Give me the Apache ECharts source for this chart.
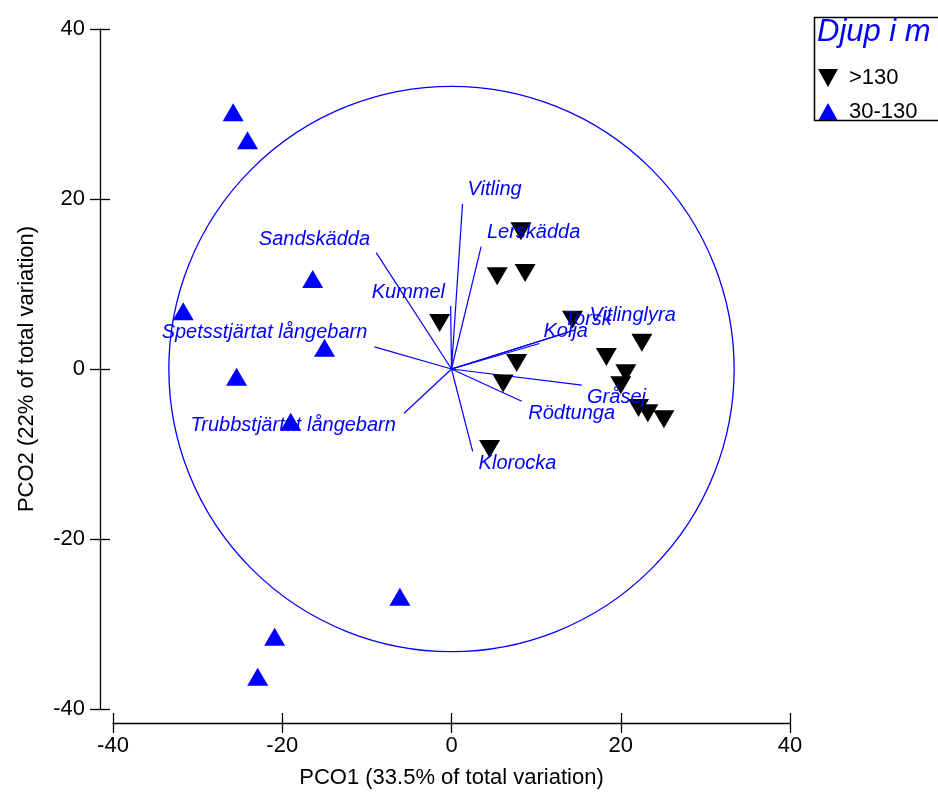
<!DOCTYPE html>
<html>
<head>
<meta charset="UTF-8">
<script src="https://cdn.jsdelivr.net/npm/echarts@6/dist/echarts.min.js"></script>
<style>
  html, body { margin: 0; padding: 0; background: #fff; }
  #main { width: 938px; height: 794px; }
</style>
</head>
<body>
<div id="main"></div>
<script>
// samples, depth > 130 m (PCO1, PCO2)
var deepX = [-1.4, 8.2, 5.4, 8.7, 14.3, 7.7, 6.1, 22.5, 18.3, 20.6, 20.0, 22.1, 23.2, 25.1, 4.5];
var deepY = [5.4, 16.2, 10.9, 11.3, 5.8, 0.7, -1.7, 3.1, 1.4, -0.5, -1.9, -4.6, -5.2, -5.9, -9.4];
// samples, depth 30-130 m
var shallowX = [-25.8, -24.1, -16.4, -31.7, -15.0, -25.4, -19.0, -6.1, -20.9, -22.9];
var shallowY = [30.2, 26.9, 10.6, 6.8, 2.5, -0.9, -6.2, -26.8, -31.5, -36.2];

// species vectors (end points) and where their names sit
var species = ['Vitling', 'Lerskädda', 'Sandskädda', 'Kummel', 'Spetsstjärtat långebarn',
  'Trubbstjärtat långebarn', 'Klorocka', 'Rödtunga', 'Gråsej', 'Kolja', 'Torsk', 'Vitlinglyra'];
var vecX = [1.3, 3.5, -8.9, -0.1, -9.1, -5.6, 2.5, 8.3, 15.4, 10.4, 13.7, 14.6];
var vecY = [19.4, 14.4, 13.7, 7.4, 2.6, -5.2, -9.7, -3.8, -1.9, 3.0, 4.3, 4.6];
var labelX = [5.1, 9.7, -16.2, -5.1, -22.1, -18.7, 7.8, 14.2, 19.5, 13.5, 16.1, 21.4];
var labelY = [21.1, 16.1, 15.3, 9.0, 4.3, -6.6, -11.1, -5.2, -3.3, 4.4, 5.8, 6.3];

var circleRadius = 33.4;
var axisTicks = [-40, -20, 0, 20, 40];

var deepData = deepX.map(function (x, i) { return [x, deepY[i]]; });
var shallowData = shallowX.map(function (x, i) { return [x, shallowY[i]]; });
var vecLines = species.map(function (n, i) { return { coords: [[0, 0], [vecX[i], vecY[i]]] }; });
var vecLabels = species.map(function (n, i) { return { name: n, value: [labelX[i], labelY[i]] }; });

var font = 'Liberation Sans, Arial, sans-serif';
var blue = '#0000ff';

function valueAxis(extra) {
  var a = {
    type: 'value', min: axisTicks[0], max: axisTicks[axisTicks.length - 1], interval: 20,
    splitLine: { show: false },
    axisLine: { show: true, onZero: false, lineStyle: { color: '#000', width: 1.3 } },
    axisTick: { show: true, length: 10, lineStyle: { color: '#000', width: 1.3 } },
    axisLabel: { color: '#000', fontSize: 22, fontFamily: font }
  };
  for (var k in extra) a[k] = extra[k];
  return a;
}

var chart = echarts.init(document.getElementById('main'));
var option = {
  backgroundColor: '#fff',
  animation: false,
  grid: { left: 113, right: 148, top: 29, bottom: 85, containLabel: false },
  xAxis: [
    valueAxis({
      position: 'bottom', offset: 14,
      name: 'PCO1 (33.5% of total variation)', nameLocation: 'middle', nameGap: 44,
      nameTextStyle: { color: '#000', fontSize: 22, fontFamily: font },
      axisLabel: { color: '#000', fontSize: 22, fontFamily: font, margin: 12 }
    }),
    valueAxis({
      position: 'bottom', offset: 14,
      axisLine: { show: false, onZero: false },
      axisTick: { show: true, inside: true, length: 10, lineStyle: { color: '#000', width: 1.3 } },
      axisLabel: { show: false }
    })
  ],
  yAxis: [
    valueAxis({
      position: 'left', offset: 13,
      name: 'PCO2 (22% of total variation)', nameLocation: 'middle', nameGap: 62, nameRotate: 90,
      nameTextStyle: { color: '#000', fontSize: 22, fontFamily: font },
      axisLabel: { color: '#000', fontSize: 22, fontFamily: font, margin: 15 }
    }),
    valueAxis({
      position: 'left', offset: 13,
      axisLine: { show: false, onZero: false },
      axisTick: { show: true, inside: true, length: 10, lineStyle: { color: '#000', width: 1.3 } },
      axisLabel: { show: false }
    })
  ],
  legend: {
    orient: 'vertical', left: 813, top: 62,
    itemWidth: 20, itemHeight: 18, itemGap: 12,
    textStyle: { color: '#000', fontSize: 22, fontFamily: font, padding: [0, 0, 0, 6] },
    data: [
      { name: '>130', icon: 'path://M0,0L20,0L10,18Z' },
      { name: '30-130', icon: 'triangle' }
    ]
  },
  graphic: [
    { type: 'rect', left: 812, top: 15, shape: { width: 130, height: 103 },
      style: { fill: 'none', stroke: '#000', lineWidth: 1.5 }, z: 10 },
    { type: 'text', left: 817, top: 17, z: 10,
      style: { text: 'Djup i m', fill: blue, fontSize: 31, fontStyle: 'italic', fontFamily: font } }
  ],
  series: [
    {
      type: 'custom', name: 'circle', silent: true, z: 1,
      data: [[0, 0, circleRadius]],
      renderItem: function (params, api) {
        var c = api.coord([api.value(0), api.value(1)]);
        var r = api.size([api.value(2), 0])[0];
        return { type: 'circle', shape: { cx: c[0], cy: c[1], r: r },
          style: { fill: 'none', stroke: blue, lineWidth: 1.3 } };
      }
    },
    {
      type: 'lines', coordinateSystem: 'cartesian2d', z: 2, silent: true,
      lineStyle: { color: blue, width: 1.2, opacity: 1 },
      data: vecLines
    },
    {
      type: 'scatter', name: '>130', z: 3,
      symbol: 'triangle', symbolRotate: 180, symbolSize: [21, 18],
      itemStyle: { color: '#000', opacity: 1 },
      data: deepData
    },
    {
      type: 'scatter', name: '30-130', z: 3,
      symbol: 'triangle', symbolSize: [21, 18],
      itemStyle: { color: blue, opacity: 1 },
      data: shallowData
    },
    {
      type: 'scatter', name: 'species', z: 4, silent: true,
      symbolSize: 0,
      itemStyle: { opacity: 1 },
      label: {
        show: true, position: 'inside', formatter: function (p) { return p.name; },
        color: blue, opacity: 1, fontSize: 20, fontStyle: 'italic', fontFamily: font
      },
      data: vecLabels
    }
  ]
};
chart.setOption(option);
</script>
</body>
</html>
